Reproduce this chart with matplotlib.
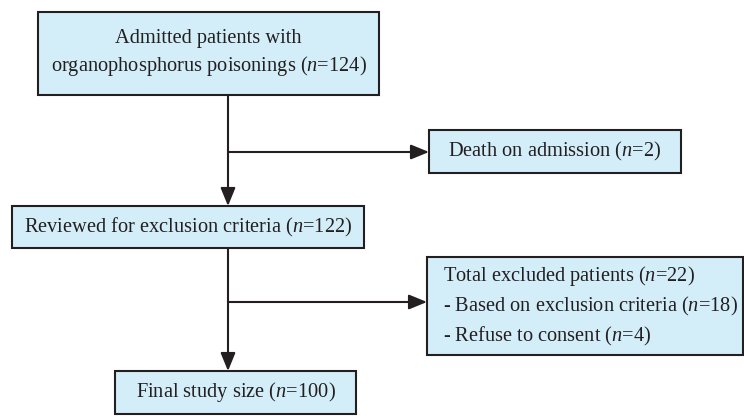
import matplotlib
matplotlib.use("Agg")
import matplotlib.pyplot as plt
from matplotlib.patches import Rectangle, FancyArrowPatch

plt.rcParams['font.family'] = ['Liberation Serif', 'DejaVu Serif']
plt.rcParams['mathtext.fontset'] = 'custom'
plt.rcParams['mathtext.rm'] = 'Liberation Serif'
plt.rcParams['mathtext.it'] = 'Liberation Serif:italic'

# flow data
admitted_n = 124
death_n = 2
reviewed_n = 122
excluded_n = 22
excluded_criteria_n = 18
refused_n = 4
final_n = 100

labels = [
    "Admitted patients with\norganophosphorus poisonings ($n$=%d)" % admitted_n,
    "Death on admission ($n$=%d)" % death_n,
    "Reviewed for exclusion criteria ($n$=%d)" % reviewed_n,
    "Total excluded patients ($n$=%d)\n- Based on exclusion criteria ($n$=%d)\n- Refuse to consent ($n$=%d)"
    % (excluded_n, excluded_criteria_n, refused_n),
    "Final study size ($n$=%d)" % final_n,
]

# layout in pixels: left, top, right, bottom
boxes = [
    (38, 12, 379, 95),
    (429, 130, 681, 173),
    (12, 206, 364, 248),
    (427, 257, 743, 355),
    (115, 371, 356, 414),
]

FILL = '#D3EEF9'
EDGE = '#231F20'

fig = plt.figure(figsize=(7.44, 4.17), dpi=100)
ax = fig.add_axes([0, 0, 1, 1])
ax.set_xlim(0, 744)
ax.set_ylim(417, 0)
ax.axis('off')

for i, (l, t, r, b) in enumerate(boxes):
    ax.add_patch(Rectangle((l, t), r - l, b - t, facecolor=FILL, edgecolor=EDGE, lw=1.5))
    cy = (t + b) / 2
    if i == 3:
        ax.text(l + 16, cy, labels[i], ha='left', va='center', fontsize=14.7,
                color='#231F20', linespacing=1.45)
    else:
        ax.text((l + r) / 2, cy, labels[i], ha='center', va='center', fontsize=14.7,
                color='#231F20', linespacing=1.35)

def arrow(p0, p1):
    ax.add_patch(FancyArrowPatch(p0, p1, arrowstyle='-|>,head_length=1.1,head_width=0.45',
                                 mutation_scale=10, color=EDGE, lw=1.5,
                                 shrinkA=0, shrinkB=0))

mx = 228
arrow((mx, boxes[0][3]), (mx, boxes[2][1]))
arrow((mx, 152), (boxes[1][0], 152))
arrow((mx, boxes[2][3]), (mx, boxes[4][1]))
arrow((mx, 302), (boxes[3][0], 302))

fig.savefig('out.png', dpi=100)
